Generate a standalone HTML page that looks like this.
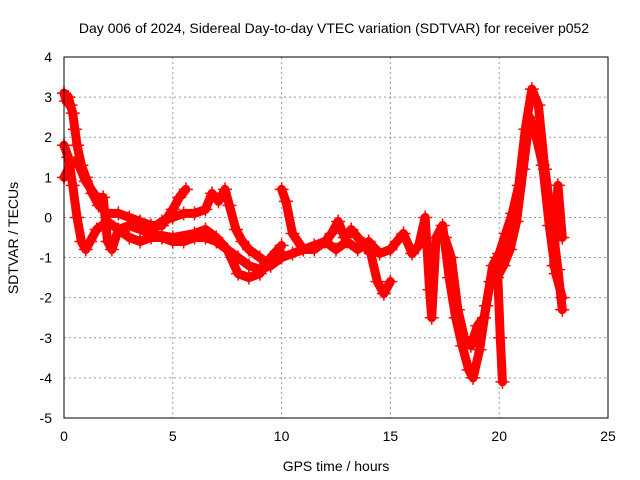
<!DOCTYPE html>
<html><head><meta charset="utf-8">
<style>
body{margin:0;background:#fff;}
svg{display:block;font-family:"Liberation Sans",sans-serif;}
</style></head>
<body>
<svg id="chart" width="640" height="480" viewBox="0 0 640 480">
<rect width="640" height="480" fill="#fff"/>
<text x="334" y="33" font-size="14" text-anchor="middle" fill="#000">Day 006 of 2024, Sidereal Day-to-day VTEC variation (SDTVAR) for receiver p052</text>
<g id="grid"></g>
<g id="series"></g>
<rect x="64" y="57" width="544" height="361" fill="none" stroke="#000" stroke-width="1"/>
<g id="ticks"></g>
<text x="336" y="471" font-size="14" text-anchor="middle">GPS time / hours</text>
<text x="18" y="238" font-size="14" text-anchor="middle" transform="rotate(-90 18 238)">SDTVAR / TECUs</text>
</svg>
<script>
const xTicks=[0,5,10,15,20,25];
const yTicks=[4,3,2,1,0,-1,-2,-3,-4,-5];
const t1x=[0,0.1,0.2,0.3,0.4,0.5,0.6,0.8,1.0,1.3,1.6,2.0,2.5,3.0,3.5,4.0,4.5,5.0,5.3,5.6];
const t1y=[3.1,2.9,3.0,2.8,2.6,2.2,1.8,1.3,1.0,0.6,0.3,0.1,0.1,0.0,-0.1,-0.2,-0.2,0.2,0.5,0.7];
const t2x=[0,0.2,0.4,0.6,0.8,1.0,1.2,1.5,2.0,2.5,3,3.5,4,4.5,5,5.5,6,6.5,7,7.5,8,8.5,9,9.5,10];
const t2y=[1.8,1.5,0.8,0.0,-0.6,-0.8,-0.6,-0.3,-0.1,-0.3,-0.5,-0.6,-0.5,-0.5,-0.6,-0.6,-0.5,-0.5,-0.6,-0.8,-1.0,-1.2,-1.3,-1.2,-1.0];
const t3x=[0,0.3,0.6,1.0,1.5,1.8,2.0,2.2,2.5,3,3.5,4,5,6,6.5,7,7.5,8,8.5,9,9.5,10];
const t3y=[1.0,1.3,1.4,0.9,0.5,0.5,-0.6,-0.8,-0.3,-0.2,-0.3,-0.4,-0.5,-0.4,-0.3,-0.5,-0.8,-1.4,-1.5,-1.4,-1.0,-0.7];
const t4x=[4,4.5,5,5.5,6,6.5,6.8,7.1,7.4,7.6,7.9,8.2,8.5,9,9.5,10];
const t4y=[-0.3,-0.1,0.0,0.1,0.1,0.2,0.6,0.4,0.7,0.3,-0.3,-0.6,-0.8,-1.0,-1.2,-0.9];
const t5x=[10,10.2,10.5,11,11.5,12,12.3,12.6,12.9,13.2,13.5,13.8,14.1,14.4,14.7,15];
const t5y=[0.7,0.4,-0.4,-0.8,-0.7,-0.6,-0.4,-0.1,-0.5,-0.3,-0.5,-0.7,-0.9,-1.6,-1.9,-1.6];
const t6x=[10,10.5,11,11.5,12,12.5,13,13.5,14,14.5,15];
const t6y=[-1.0,-0.9,-0.8,-0.8,-0.6,-0.8,-0.6,-0.8,-0.6,-0.9,-0.8];
const t7x=[15,15.3,15.6,16,16.3,16.6,16.8,16.9,17.1,17.4,17.7,18,18.3,18.6,18.8,19.1,19.4,19.7,20,20.3,20.6,20.9,21.2,21.5,21.8,22.1,22.4,22.7,22.9];
const t7y=[-0.8,-0.6,-0.4,-0.9,-0.7,0.0,-1.8,-2.5,-0.5,-0.2,-1.5,-2.5,-3.2,-3.8,-4.0,-3.3,-2.2,-1.2,-0.9,-0.4,0.1,0.8,2.2,3.2,2.8,1.2,0.0,-1.3,-2.3];
const t8x=[17.5,17.8,18.1,18.4,18.7,19,19.3,19.6,19.9,20.2,20.5,20.8,21.1,21.4,21.7,22,22.3,22.6,22.9];
const t8y=[-0.5,-1.0,-2.3,-3.0,-3.2,-2.7,-2.5,-1.6,-1.5,-1.2,-0.8,-0.1,1.2,2.5,2.0,1.3,-0.2,-1.4,-2.0];
const t9x=[19.9,20.05,20.15];
const t9y=[-1.0,-3.0,-4.1];
const t10x=[22.5,22.7,22.9];
const t10y=[-1.2,0.8,-0.5];
const tracks=[[t1x,t1y],[t2x,t2y],[t3x,t3y],[t4x,t4y],[t5x,t5y],[t6x,t6y],[t7x,t7y],[t8x,t8y],[t9x,t9y],[t10x,t10y]];
const NS='http://www.w3.org/2000/svg';
function xs(v){return 64+v*(544/25);}
function ys(v){return 57+(4-v)*(361/9);}
const grid=document.getElementById('grid'),ticks=document.getElementById('ticks'),ser=document.getElementById('series');
function mk(tag,attrs,parent){const e=document.createElementNS(NS,tag);for(const k in attrs)e.setAttribute(k,attrs[k]);parent.appendChild(e);return e;}
xTicks.forEach(v=>{const x=xs(v);
 if(v>0&&v<25){const g=mk('line',{x1:x,x2:x,y1:57,y2:418,stroke:'#999','stroke-dasharray':'2,3'},grid);
 
 }
 const t=mk('text',{x:x,y:441,'font-size':14,'text-anchor':'middle'},ticks);t.textContent=v;
 
 
});
yTicks.forEach(v=>{const y=ys(v);
 if(v<4&&v>-5){const g=mk('line',{x1:64,x2:608,y1:y,y2:y,stroke:'#999','stroke-dasharray':'2,3'},grid);
 
 }
 const t=mk('text',{x:52,y:y+5,'font-size':14,'text-anchor':'end'},ticks);t.textContent=v;
 
 
});
tracks.forEach(([tx,ty])=>{
 const pts=tx.map((v,i)=>xs(v)+','+ys(ty[i])).join(' ');
 const pl=mk('polyline',{points:pts,fill:'none',stroke:'#ff0000','stroke-width':9,'stroke-linejoin':'round','stroke-linecap':'round'},ser);
 
 
 tx.forEach((v,i)=>{const x=xs(v),y=ys(ty[i]);
  const p=mk('path',{d:`M${x-7},${y}H${x+7}M${x},${y-7}V${y+7}`,stroke:'#ff0000','stroke-width':1.5},ser);
  
  
 });
});
</script>
</body></html>
